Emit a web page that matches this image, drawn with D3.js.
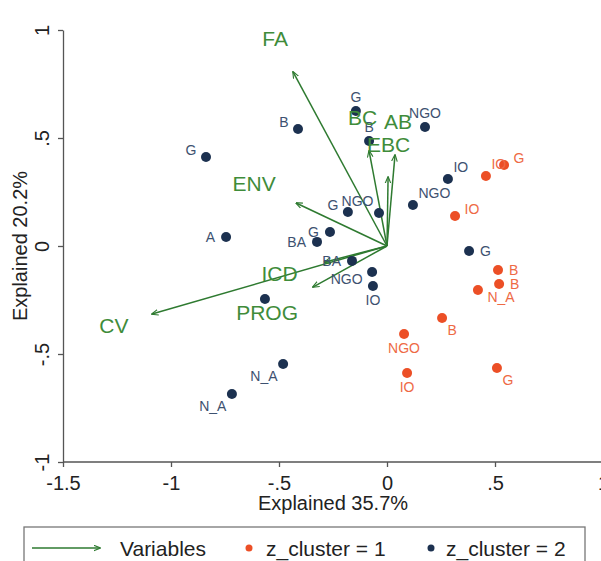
<!DOCTYPE html>
<html>
<head>
<meta charset="utf-8">
<script src="https://cdn.jsdelivr.net/npm/d3@7"></script>
<style>
  body { margin: 0; background: #fff; }
  svg { display: block; font-family: "Liberation Sans", Arial, sans-serif; }
</style>
</head>
<body>
<div id="chart"></div>
<script>
// variable loadings (arrows)
const varNames = ["FA", "AB", "BC", "EBC", "ENV", "ICD", "CV", "PROG"];
const varX = [-0.435, 0.037, -0.083, 0.005, -0.421, -0.29, -1.088, -0.343];
const varY = [0.806, 0.421, 0.44, 0.319, 0.199, -0.075, -0.315, -0.19];

// observations, z_cluster = 1
const c1Labels = ["IO", "G", "IO", "B", "B", "N_A", "B", "NGO", "IO", "G"];
const c1X = [0.458, 0.542, 0.315, 0.514, 0.519, 0.421, 0.255, 0.079, 0.093, 0.509];
const c1Y = [0.324, 0.375, 0.139, -0.111, -0.176, -0.204, -0.333, -0.407, -0.588, -0.565];
const c1Clock = [1, 2, 2, 3, 3, 4, 5, 6, 6, 5];

// observations, z_cluster = 2 (label of the point under PROG is hidden)
const c2Labels = ["G", "B", "G", "NGO", "B", "G", "NGO", "NGO", "A", "G", "BA", "BA", "NGO", "IO", "", "G", "IO", "N_A", "N_A"];
const c2X = [-0.838, -0.412, -0.144, 0.176, -0.083, -0.181, -0.037, 0.120, -0.745, -0.264, -0.324, -0.162, -0.069, -0.065, -0.565, 0.380, 0.282, -0.481, -0.718];
const c2Y = [0.412, 0.542, 0.625, 0.551, 0.486, 0.157, 0.153, 0.190, 0.042, 0.065, 0.019, -0.069, -0.120, -0.185, -0.245, -0.023, 0.310, -0.546, -0.685];
const c2Clock = [10, 10, 12, 12, 12, 10, 11, 1, 9, 9, 9, 9, 8, 6, 9, 3, 1, 7, 7];

const xTicks = [-1.5, -1, -0.5, 0, 0.5, 1];
const yTicks = [-1, -0.5, 0, 0.5, 1];
const xTitle = "Explained 35.7%";
const yTitle = "Explained 20.2%";

const W = 601, H = 561;
const green = "#2e7a30", greenText = "#3f8c3a";
const orange = "#ec4f26", orangeText = "#ee6a45";
const navy = "#1c3150", navyText = "#3d5170";

const svg = d3.select("#chart").append("svg").attr("width", W).attr("height", H);

const x = d3.scaleLinear().domain([-1.5, 1]).range([63, 603]);
const y = d3.scaleLinear().domain([-1, 1]).range([462, 30]);
const fmt = d => String(d).replace("0.", ".");

// axes
const gx = svg.append("g").attr("transform", "translate(0,462)")
  .call(d3.axisBottom(x).tickValues(xTicks).tickFormat(fmt).tickSize(5).tickSizeOuter(0));
gx.select(".domain").attr("d", "M63,0H603");
gx.selectAll("text").attr("font-size", 20).attr("dy", "1em").attr("fill", "#222");

const gy = svg.append("g").attr("transform", "translate(63,0)")
  .call(d3.axisLeft(y).tickValues(yTicks).tickFormat(fmt).tickSize(5).tickSizeOuter(0));
gy.selectAll("text")
  .attr("transform", "rotate(-90)")
  .attr("x", 0).attr("y", -14).attr("dy", 0)
  .attr("text-anchor", "middle").attr("font-size", 20).attr("fill", "#222");
svg.selectAll(".domain, .tick line").attr("stroke", "#555").attr("stroke-width", 1.3);

svg.append("text").attr("x", 333).attr("y", 510).attr("text-anchor", "middle")
  .attr("font-size", 20).attr("fill", "#222").text(xTitle);
svg.append("text").attr("transform", "translate(20,246) rotate(-90)")
  .attr("text-anchor", "middle").attr("dominant-baseline", "central")
  .attr("font-size", 20).attr("fill", "#222").text(yTitle);

// arrowhead
svg.append("defs").append("marker")
  .attr("id", "arr").attr("viewBox", "0 -5 10 10").attr("refX", 9).attr("refY", 0)
  .attr("markerWidth", 7).attr("markerHeight", 7).attr("orient", "auto")
  .attr("markerUnits", "userSpaceOnUse")
  .append("path").attr("d", "M0,-4L10,0L0,4").attr("fill", "none")
  .attr("stroke", green).attr("stroke-width", 1.6);

// variable arrows
const plot = svg.append("g");
varNames.forEach((n, i) => {
  plot.append("line")
    .attr("x1", x(0)).attr("y1", y(0)).attr("x2", x(varX[i])).attr("y2", y(varY[i]))
    .attr("stroke", green).attr("stroke-width", 1.5).attr("marker-end", "url(#arr)");
});

// points and marker labels
function clockOffset(c) {
  const t = c * Math.PI / 6;
  const dx = 11 * Math.sin(t), dy = -14 * Math.cos(t);
  const anchor = dx > 1 ? "start" : dx < -1 ? "end" : "middle";
  return { dx, dy, anchor };
}
function drawCluster(xs, ys, labels, clocks, col, tcol) {
  xs.forEach((v, i) => {
    plot.append("circle").attr("cx", x(v)).attr("cy", y(ys[i])).attr("r", 5).attr("fill", col);
  });
  xs.forEach((v, i) => {
    if (!labels[i]) return;
    const o = clockOffset(clocks[i]);
    plot.append("text").attr("x", x(v) + o.dx).attr("y", y(ys[i]) + o.dy)
      .attr("text-anchor", o.anchor).attr("dominant-baseline", "central")
      .attr("font-size", 14).attr("fill", tcol).text(labels[i]);
  });
}
drawCluster(c2X, c2Y, c2Labels, c2Clock, navy, navyText);
drawCluster(c1X, c1Y, c1Labels, c1Clock, orange, orangeText);

// variable labels beyond arrow tips
varNames.forEach((n, i) => {
  const px = x(varX[i]), py = y(varY[i]);
  const vx = px - x(0), vy = py - y(0);
  const len = Math.hypot(vx, vy), ux = vx / len, uy = vy / len;
  const w = n.length * 14, h = 16;
  const d = 24 + Math.abs(ux) * w / 2 + Math.abs(uy) * h / 2;
  plot.append("text").attr("x", px + ux * d).attr("y", py + uy * d)
    .attr("text-anchor", "middle").attr("dominant-baseline", "central")
    .attr("font-size", 21).attr("fill", greenText).text(n);
});

// legend
const lg = svg.append("g");
lg.append("rect").attr("x", 24).attr("y", 527).attr("width", 561).attr("height", 50)
  .attr("fill", "#fff").attr("stroke", "#777").attr("stroke-width", 1.3);
lg.append("line").attr("x1", 32).attr("y1", 548).attr("x2", 100).attr("y2", 548)
  .attr("stroke", green).attr("stroke-width", 1.5).attr("marker-end", "url(#arr)");
lg.append("text").attr("x", 120).attr("y", 548).attr("dominant-baseline", "central")
  .attr("font-size", 21).attr("fill", "#222").text("Variables");
lg.append("circle").attr("cx", 249).attr("cy", 548).attr("r", 3.5).attr("fill", orange);
lg.append("text").attr("x", 266).attr("y", 548).attr("dominant-baseline", "central")
  .attr("font-size", 21).attr("fill", "#222").text("z_cluster = 1");
lg.append("circle").attr("cx", 431).attr("cy", 548).attr("r", 3.5).attr("fill", navy);
lg.append("text").attr("x", 446).attr("y", 548).attr("dominant-baseline", "central")
  .attr("font-size", 21).attr("fill", "#222").text("z_cluster = 2");
</script>
</body>
</html>
